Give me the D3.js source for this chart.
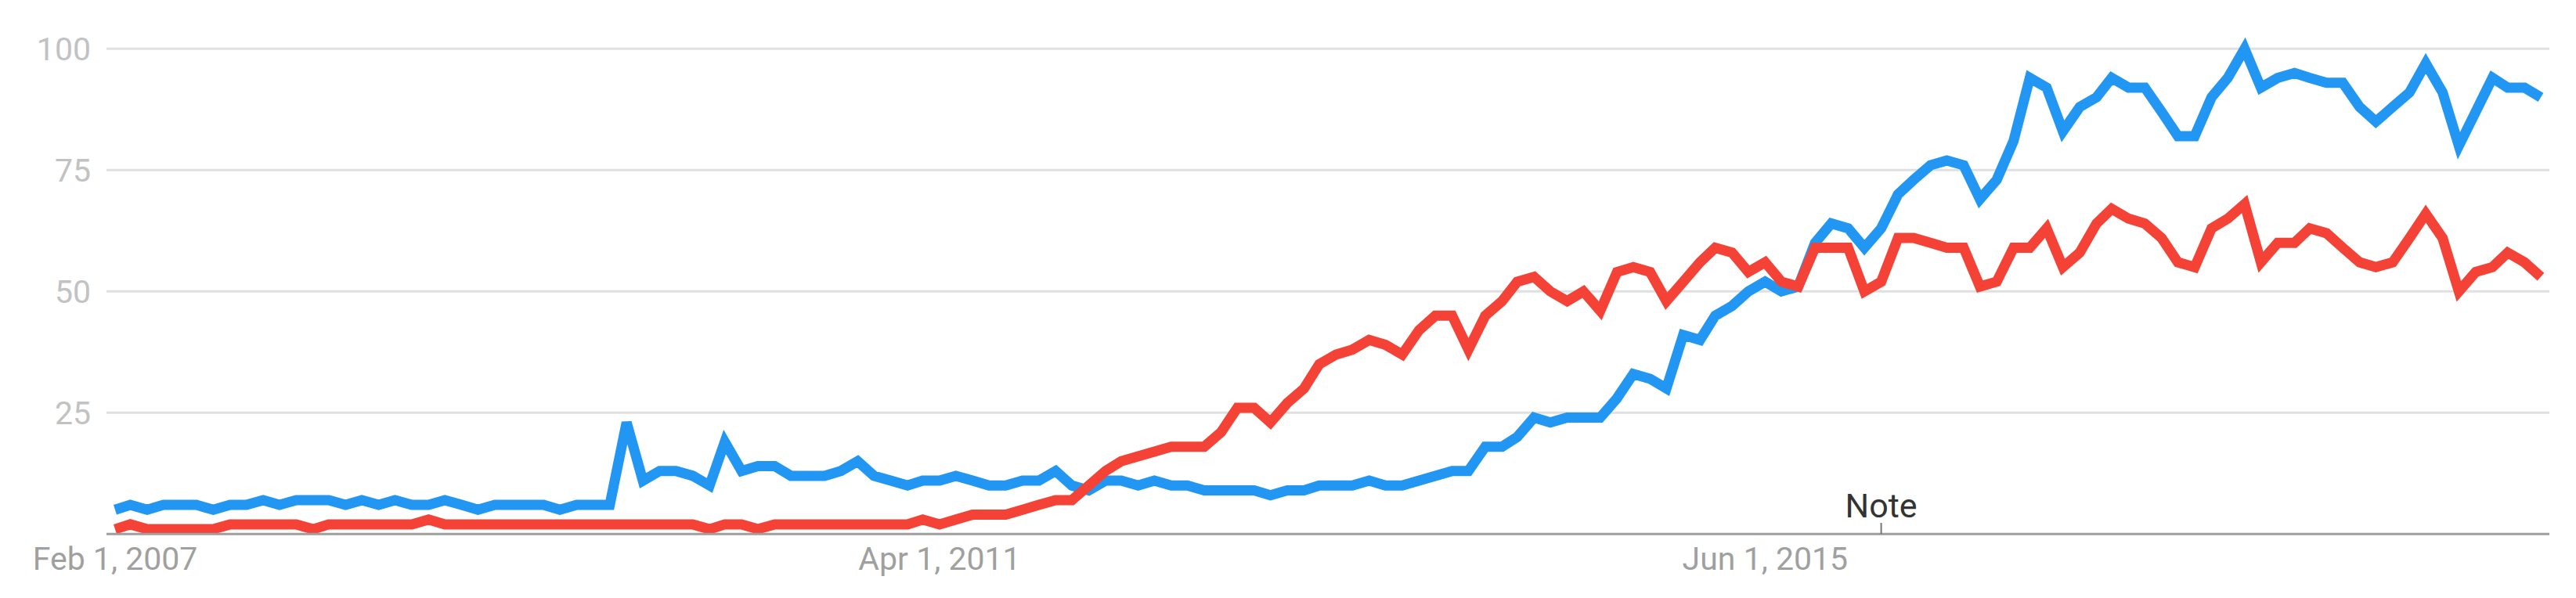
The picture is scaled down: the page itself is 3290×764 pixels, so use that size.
<!DOCTYPE html>
<html>
<head>
<meta charset="utf-8">
<script src="https://cdn.jsdelivr.net/npm/d3@7"></script>
<style>
  html, body { margin: 0; padding: 0; background: #ffffff; }
  svg { display: block; }
</style>
</head>
<body>
<svg id="chart" width="3290" height="764"></svg>
<script>
// ---- data (monthly, Feb 2007 .. May 2019) ----
const startMonth = "2007-02-01";
const monthCount = 148;

const blueValues = [
  5,6,5,6,6,6,5,6,6,7, 6,7,7,7,6,7,6,7,6,6, 7,6,5,6,6,
  6,6,5,6,6,6,23,11,13,13, 12,10,19,13,14,14,12,12,12,13, 15,12,11,10,11,
  11,12,11,10,10,11,11,13,10,9, 11,11,10,11,10,10,9,9,9,9, 8,9,9,10,10,
  10,11,10,10,11,12,13,13,18,18, 20,24,23,24,24,24,28,33,32,30, 41,40,45,47,
  50,52,50,51,60,64,63,59,63,70, 73,76,77,76,69,73,81,94,92,83, 88,90,94,92,92,
  87,82,82,90,94,100,92,94,95,94, 93,93,88,85,88,91,97,91,80,87, 94,92,92,90
];

const redValues = [
  1,2,1,1,1,1,1,2,2,2, 2,2,1,2,2,2,2,2,2,3, 2,2,2,2,2,
  2,2,2,2,2,2,2,2,2,2, 2,1,2,2,1,2,2,2,2,2, 2,2,2,2,3,
  2,3,4,4,4,5,6,7,7,10, 13,15,16,17,18,18,18,21,26,26, 23,27,30,35,37,
  38,40,39,37,42,45,45,38,45,48, 52,53,50,48,50,46,54,55,54,48, 52,56,59,58,
  54,56,52,51,59,59,59,50,52,61, 61,60,59,59,51,52,59,59,63,55, 58,64,67,65,64,
  61,56,55,63,65,68,56,60,60,63, 62,59,56,55,56,61,66,61,50,54, 55,58,56,53
];

const yTickValues = [25, 50, 75, 100];
const yTickLabels = ["25", "50", "75", "100"];
const xTickDates = ["2007-02-01", "2011-04-01", "2015-06-01"];
const xTickLabels = ["Feb 1, 2007", "Apr 1, 2011", "Jun 1, 2015"];
const noteDate = "2016-01-01";
const noteLabel = "Note";

// ---- build ----
const parse = d3.utcParse("%Y-%m-%d");
const start = parse(startMonth);
const dates = d3.range(monthCount).map(i => d3.utcMonth.offset(start, i));

const svg = d3.select("#chart");

const x = d3.scaleUtc()
  .domain([dates[0], dates[dates.length - 1]])
  .range([147, 3245]);

const y = d3.scaleLinear()
  .domain([0, 100])
  .range([682.3, 62.3]);

const gridLeft = 136, gridRight = 3256;

// gridlines
svg.append("g")
  .selectAll("line")
  .data(yTickValues)
  .join("line")
  .attr("x1", gridLeft).attr("x2", gridRight)
  .attr("y1", d => y(d)).attr("y2", d => y(d))
  .attr("stroke", "#e0e0e0")
  .attr("stroke-width", 3);

// y labels
svg.append("g")
  .selectAll("text")
  .data(yTickValues)
  .join("text")
  .attr("x", 116)
  .attr("y", d => y(d) + 14.6)
  .attr("text-anchor", "end")
  .attr("font-family", "Roboto, 'Noto Sans', sans-serif")
  .attr("font-size", 41)
  .attr("fill", "#c2c2c2")
  .text((d, i) => yTickLabels[i]);

// lines
const line = d3.line()
  .x((d, i) => x(dates[i]))
  .y(d => y(d));

svg.append("path")
  .datum(blueValues)
  .attr("d", line)
  .attr("fill", "none")
  .attr("stroke", "#2196f3")
  .attr("stroke-width", 13);

svg.append("path")
  .datum(redValues)
  .attr("d", line)
  .attr("fill", "none")
  .attr("stroke", "#f44336")
  .attr("stroke-width", 13);

// baseline axis
svg.append("line")
  .attr("x1", gridLeft).attr("x2", gridRight)
  .attr("y1", y(0)).attr("y2", y(0))
  .attr("stroke", "#9e9e9e")
  .attr("stroke-width", 3);

// note marker
const nx = x(parse(noteDate));
svg.append("line")
  .attr("x1", nx).attr("x2", nx)
  .attr("y1", 668).attr("y2", y(0))
  .attr("stroke", "#757575")
  .attr("stroke-width", 2);
svg.append("text")
  .attr("x", nx)
  .attr("y", 661)
  .attr("text-anchor", "middle")
  .attr("font-family", "Roboto, 'Noto Sans', sans-serif")
  .attr("font-size", 43)
  .attr("fill", "#333333")
  .text(noteLabel);

// x labels
svg.append("g")
  .selectAll("text")
  .data(xTickDates)
  .join("text")
  .attr("x", d => x(parse(d)))
  .attr("y", 728)
  .attr("text-anchor", "middle")
  .attr("font-family", "Roboto, 'Noto Sans', sans-serif")
  .attr("font-size", 41)
  .attr("fill", "#a0a0a0")
  .text((d, i) => xTickLabels[i]);
</script>
</body>
</html>
